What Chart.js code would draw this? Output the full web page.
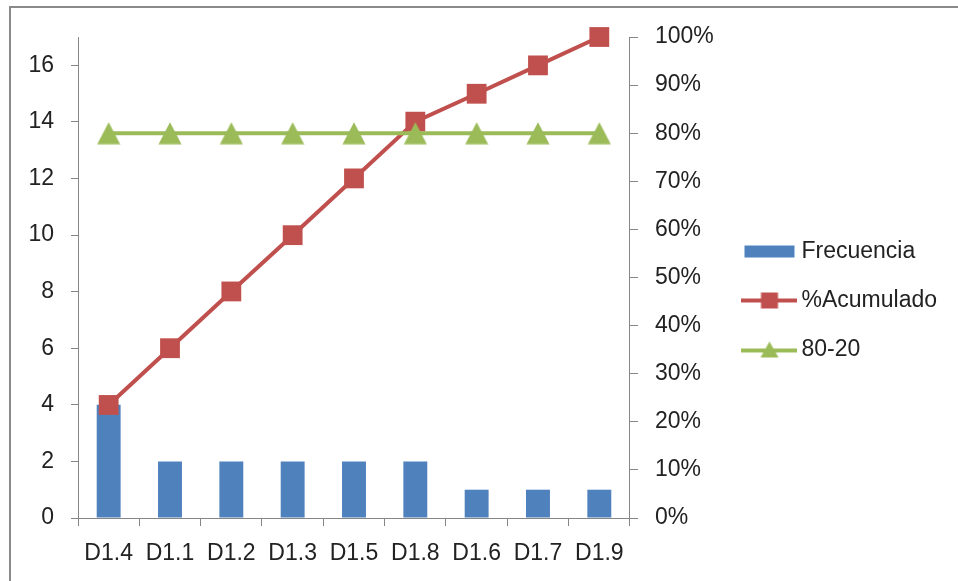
<!DOCTYPE html>
<html>
<head>
<meta charset="utf-8">
<script src="https://cdn.jsdelivr.net/npm/chart.js@4/dist/chart.umd.min.js"></script>
<style>
  html, body { margin: 0; padding: 0; background: #ffffff; }
  #wrap { position: relative; width: 958px; height: 581px; overflow: hidden; }
  #frame {
    position: absolute; left: 9px; top: 6px; width: 1000px; height: 1000px;
    border-left: 2px solid #8a8a8a; border-top: 2px solid #8a8a8a;
  }
  #c { position: absolute; left: 0; top: 0; }
</style>
</head>
<body>
<div id="wrap">
  <div id="frame"></div>
  <canvas id="c" width="958" height="581"></canvas>
</div>
<script>
// Pareto data
const categories = ['D1.4', 'D1.1', 'D1.2', 'D1.3', 'D1.5', 'D1.8', 'D1.6', 'D1.7', 'D1.9'];
const frecuencia = [4, 2, 2, 2, 2, 2, 1, 1, 1];
const acumulado = [23.5, 35.3, 47.1, 58.8, 70.6, 82.4, 88.2, 94.1, 100];
const linea8020 = [80, 80, 80, 80, 80, 80, 80, 80, 80];
const leftTicks = [0, 2, 4, 6, 8, 10, 12, 14, 16];
const rightTicks = [0, 10, 20, 30, 40, 50, 60, 70, 80, 90, 100];

const BLUE = '#4f81bd';
const RED = '#c0504d';
const GREEN = '#9bbb59';
const AXIS = '#868686';
const TEXT = '#222222';
const FONT = 'Liberation Sans';

// Marker / legend icon helpers
function makeCanvas(w, h) {
  const c = document.createElement('canvas');
  c.width = w; c.height = h;
  return c;
}
function triangle(ctx, cx, cy, w, h, color) {
  ctx.fillStyle = color;
  ctx.beginPath();
  ctx.moveTo(cx, cy - h / 2);
  ctx.lineTo(cx + w / 2, cy + h / 2);
  ctx.lineTo(cx - w / 2, cy + h / 2);
  ctx.closePath();
  ctx.fill();
}
const triMarker = (() => {
  const c = makeCanvas(24, 23);
  triangle(c.getContext('2d'), 12, 11.5, 23, 22, GREEN);
  return c;
})();
const barIcon = (() => {
  const c = makeCanvas(52, 14);
  const ctx = c.getContext('2d');
  ctx.fillStyle = BLUE;
  ctx.fillRect(1, 1, 50, 12);
  return c;
})();
const redIcon = (() => {
  const c = makeCanvas(56, 22);
  const ctx = c.getContext('2d');
  ctx.strokeStyle = RED; ctx.lineWidth = 4;
  ctx.beginPath(); ctx.moveTo(0, 11); ctx.lineTo(56, 11); ctx.stroke();
  ctx.fillStyle = RED;
  ctx.fillRect(28 - 8.5, 11 - 8, 17, 16);
  return c;
})();
const greenIcon = (() => {
  const c = makeCanvas(56, 22);
  const ctx = c.getContext('2d');
  ctx.strokeStyle = GREEN; ctx.lineWidth = 4;
  ctx.beginPath(); ctx.moveTo(0, 12); ctx.lineTo(56, 12); ctx.stroke();
  triangle(ctx, 28, 11, 18, 16, GREEN);
  return c;
})();
const legendIcons = [barIcon, redIcon, greenIcon];

const tickFont = { family: FONT, size: 23 };

new Chart(document.getElementById('c'), {
  type: 'bar',
  data: {
    labels: categories,
    datasets: [
      {
        label: 'Frecuencia',
        data: frecuencia,
        backgroundColor: BLUE,
        borderWidth: 0,
        yAxisID: 'y',
        order: 2,
        categoryPercentage: 1,
        barPercentage: 0.39
      },
      {
        type: 'line',
        label: '%Acumulado',
        data: acumulado,
        borderColor: RED,
        backgroundColor: RED,
        borderWidth: 4,
        pointStyle: 'rect',
        pointRadius: 14,
        pointHoverRadius: 14,
        pointBorderWidth: 0,
        pointBackgroundColor: RED,
        tension: 0,
        clip: false,
        yAxisID: 'y1',
        order: 1
      },
      {
        type: 'line',
        label: '80-20',
        data: linea8020,
        borderColor: GREEN,
        backgroundColor: GREEN,
        borderWidth: 4,
        pointStyle: triMarker,
        pointRadius: 12,
        tension: 0,
        clip: false,
        yAxisID: 'y1',
        order: 0
      }
    ]
  },
  options: {
    responsive: false,
    animation: false,
    events: [],
    layout: { padding: { top: 37, bottom: 17, left: 0, right: 11 } },
    plugins: {
      tooltip: { enabled: false },
      legend: {
        position: 'right',
        align: 'center',
        maxWidth: 260,
        labels: {
          usePointStyle: true,
          pointStyleWidth: 41,
          padding: 26,
          color: TEXT,
          font: { family: FONT, size: 23 },
          generateLabels(chart) {
            const items = Chart.defaults.plugins.legend.labels.generateLabels(chart);
            items.sort((a, b) => a.datasetIndex - b.datasetIndex);
            items.forEach(it => { it.pointStyle = legendIcons[it.datasetIndex]; it.lineWidth = 0; });
            return items;
          }
        }
      }
    },
    scales: {
      x: {
        offset: true,
        grid: { display: true, offset: true, drawOnChartArea: false, drawTicks: true, tickLength: 8, color: AXIS },
        border: { display: true, color: AXIS, width: 1 },
        ticks: { color: TEXT, font: tickFont, padding: 14, maxRotation: 0, autoSkip: false },
        afterFit(scale) { scale.height = 46; }
      },
      y: {
        position: 'left',
        min: 0,
        max: 17,
        grid: { drawOnChartArea: false, drawTicks: true, tickLength: 7, color: AXIS },
        border: { display: true, color: AXIS, width: 1 },
        ticks: { color: TEXT, font: tickFont, padding: 17, includeBounds: false, stepSize: 2 },
        afterBuildTicks(scale) { scale.ticks = leftTicks.map(v => ({ value: v })); },
        afterFit(scale) { scale.width = 78; }
      },
      y1: {
        position: 'right',
        min: 0,
        max: 100,
        grid: { drawOnChartArea: false, drawTicks: true, tickLength: 8, color: AXIS },
        border: { display: true, color: AXIS, width: 1 },
        ticks: { color: TEXT, font: tickFont, padding: 17, stepSize: 10, callback: v => v + '%' },
        afterBuildTicks(scale) { scale.ticks = rightTicks.map(v => ({ value: v })); },
        afterFit(scale) { scale.width = 93; }
      }
    }
  }
});
</script>
</body>
</html>
